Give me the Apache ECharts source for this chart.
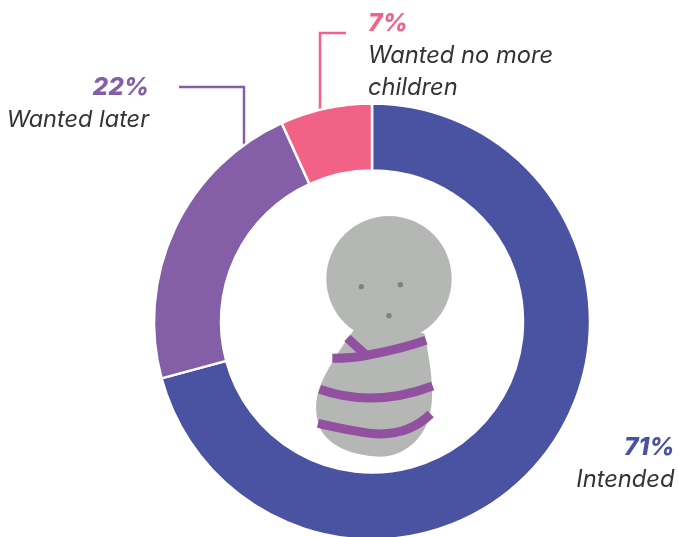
<!DOCTYPE html>
<html><head><meta charset="utf-8">
<style>html,body{margin:0;padding:0;background:#fff}#c{width:678px;height:537px}</style>
<script src="https://cdn.jsdelivr.net/npm/echarts@6/dist/echarts.min.js"></script></head>
<body><div id="c"></div>
<script>
const categories = ['Intended', 'Wanted later', 'Wanted no more\nchildren'];
const labelValues = [71, 22, 7];
const sliceValues = [70.8, 22.4, 6.8];
const colors = ['#4a52a2', '#845fa8', '#f26286'];
const FONT = 'Inter';
const TEXT = '#333333';
const STRIPE = '#9150a0';
const GREY = '#b5b7b5';

function lbl(i, x, y, align, size) {
  return [
    {type:'text', z:10, style:{x, y, text: labelValues[i] + '%', align, verticalAlign:'middle',
      font:'italic 800 24.5px ' + FONT, fill: colors[i]}},
    {type:'text', z:10, style:{x, y: y + 16, text: categories[i], align, verticalAlign:'top', lineHeight:32,
      font:'italic 400 ' + size + 'px ' + FONT, fill: TEXT}}
  ];
}
let shapeId = 0;
function baby(d, extra) {
  const name = 'babyShape' + (shapeId++);
  echarts.graphic.registerShape(name, echarts.graphic.extendPath(d, {}));
  return Object.assign({type:name, x:290, y:200, scaleX:1/3, scaleY:1/3, z:5}, extra);
}
const stripe = d => baby(d, {z:6, style:{fill:'none', stroke:STRIPE, lineWidth:27}});
const dot = (x, y) => ({type:'circle', x:290, y:200, scaleX:1/3, scaleY:1/3, z:7, shape:{cx:x, cy:y, r:8}, style:{fill:'#80817d'}});

const chart = echarts.init(document.getElementById('c'));
chart.setOption({
  animation:false,
  backgroundColor:'#fff',
  series:[{
    type:'pie', center:[372,321.5], radius:[151,218], startAngle:90, clockwise:true,
    label:{show:false}, labelLine:{show:false}, silent:true,
    itemStyle:{borderColor:'#fff', borderWidth:2.5},
    data: categories.map((n,i)=>({name:n, value:sliceValues[i], itemStyle:{color:colors[i]}}))
  }],
  graphic:[
    {type:'polyline', z:1, shape:{points:[[179,87],[244,87],[244,150]]}, style:{fill:'none', stroke:colors[1], lineWidth:2.5}},
    {type:'polyline', z:1, shape:{points:[[346,33],[320,33],[320,112]]}, style:{fill:'none', stroke:colors[2], lineWidth:2.5}},
    ...lbl(2, 368, 24, 'left', 23.7),
    ...lbl(1, 149, 87.5, 'right', 23.5),
    ...lbl(0, 674.5, 448, 'right', 23.7),
    baby('M195 385 C170 420 110 505 88 565 C76 600 74 640 88 680 C110 730 170 765 270 770 C340 770 395 720 415 660 C432 610 432 540 403 400 Z', {style:{fill:GREY}}),
    {type:'circle', x:290, y:200, scaleX:1/3, scaleY:1/3, z:5, shape:{cx:297, cy:236, r:188}, style:{fill:GREY}},
    stripe('M127 475 Q190 475 235 465 Q330 448 408 421'),
    stripe('M172 414 L233 470'),
    stripe('M89 568 Q250 625 428 558'),
    stripe('M84 670 Q170 690 240 700 Q350 712 422 642'),
    dot(214,260), dot(331,254), dot(297,347)
  ]
});
</script></body></html>
